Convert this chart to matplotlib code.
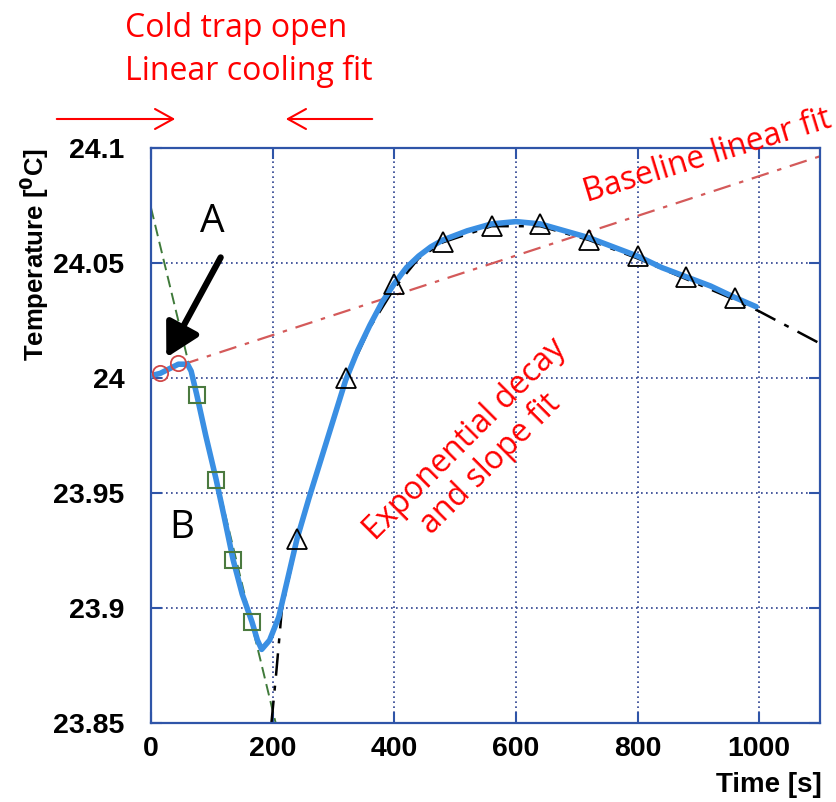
import matplotlib
matplotlib.use("Agg")
import matplotlib.pyplot as plt
import numpy as np

# mesure de température (courbe bleue)
t_mesure = [0, 15, 30, 45, 60, 66, 75, 90, 107, 120, 135, 150, 166, 175, 182,
            195, 210, 225, 240, 260, 280, 300, 320, 340, 360, 380, 400, 420,
            440, 460, 480, 520, 560, 600, 640, 680, 720, 760, 800, 840, 880,
            920, 960, 995]
T_mesure = [24.001, 24.002, 24.004, 24.006, 24.006, 24.003, 23.993, 23.975,
            23.956, 23.940, 23.921, 23.906, 23.894, 23.886, 23.882,
            23.886, 23.896, 23.913, 23.930, 23.948, 23.965, 23.982, 23.999,
            24.012, 24.023, 24.033, 24.041, 24.048, 24.053, 24.057, 24.060,
            24.064, 24.067, 24.068, 24.067, 24.064, 24.061, 24.057, 24.053,
            24.048, 24.044, 24.040, 24.035, 24.031]

# points A (cercles), B (carrés), triangles
t_A = [15, 44]
T_A = [24.002, 24.0065]
t_B = [75, 107, 135, 166]
T_B = [23.9926, 23.9556, 23.921, 23.894]
t_tri = [240, 320, 400, 480, 560, 640, 720, 800, 880, 960]
T_tri = [23.930, 24.000, 24.041, 24.059, 24.066, 24.067, 24.060, 24.053, 24.044, 24.035]

# ajustements
t_froid = [0, 205]
T_froid = [24.074, 23.850]
t_base = [50, 1100]
T_base = [24.0057, 24.0964]
t_expo = [198, 206, 215, 240, 280, 320, 360, 400, 440, 480, 560, 640, 720,
          800, 880, 960, 1000, 1050, 1100]
T_expo = [23.850, 23.872, 23.899, 23.929, 23.965, 23.999, 24.022, 24.039,
          24.052, 24.059, 24.066, 24.066, 24.060, 24.052, 24.043, 24.034,
          24.029, 24.022, 24.015]

x_ticks = [0, 200, 400, 600, 800, 1000]
y_ticks = [23.85, 23.9, 23.95, 24.0, 24.05, 24.1]
y_labels = ["23.85", "23.9", "23.95", "24", "24.05", "24.1"]

W, H = 836, 802
bleu_cadre = "#2f55a8"


def px(x, y):
    return (x / W, 1 - y / H)


fig = plt.figure(figsize=(W / 100, H / 100), dpi=100)
ax = fig.add_axes([151 / W, 1 - 723 / H, (820 - 151) / W, (723 - 148) / H])

ax.plot(t_froid, T_froid, color="#3f7a3a", lw=1.4, dashes=(6, 3), zorder=2)
ax.plot(t_base, T_base, color="#d45a5a", lw=1.6, dashes=(8, 4, 2, 4), zorder=2)
ax.plot(t_expo, T_expo, color="black", lw=1.8, dashes=(9, 4, 2, 4), zorder=2)
ax.plot(t_mesure, T_mesure, color="#3a8fe3", lw=4, solid_capstyle="round", zorder=3)

ax.plot(t_A, T_A, "o", ms=11, mfc="none", mec="#d04848", mew=1.3, zorder=4)
ax.plot(t_B, T_B, "s", ms=11, mfc="none", mec="#4b7a3f", mew=1.5, zorder=4)
ax.plot(t_tri, T_tri, "^", ms=14, mfc="none", mec="black", mew=1.3, zorder=4)

ax.set_xlim(0, 1100)
ax.set_ylim(23.85, 24.1)
ax.set_xticks(x_ticks)
ax.set_yticks(y_ticks)
ax.set_yticklabels(y_labels)
ax.grid(True, color="#2b3f8f", lw=1.2, linestyle=(0, (1, 2)))
for s in ax.spines.values():
    s.set_color(bleu_cadre)
    s.set_linewidth(1.6)
ax.tick_params(direction="in", length=8, width=1.5, color=bleu_cadre,
               top=True, right=True, labelsize=20.5)
ax.tick_params(axis="y", pad=19)
ax.tick_params(axis="x", pad=9)
for lab in ax.get_xticklabels() + ax.get_yticklabels():
    lab.set_fontfamily("Liberation Sans")
    lab.set_fontweight("bold")

fig.text(*px(34, 254), r"Temperature [$^{\mathbf{0}}$C]", rotation=90, ha="center",
         va="center", fontsize=18.5, fontweight="bold", family="Liberation Sans")
fig.text(*px(822, 785), "Time [s]", ha="right", va="center", fontsize=20,
         fontweight="bold", family="Liberation Sans")

# textes rouges
rouge = "#ff0000"
fig.text(*px(125, 37), "Cold trap open", ha="left", va="baseline",
         color=rouge, fontsize=23, family="Open Sans")
fig.text(*px(125, 80), "Linear cooling fit", ha="left", va="baseline",
         color=rouge, fontsize=23, family="Open Sans")
fig.text(*px(587, 202), "Baseline linear fit", ha="left", va="baseline", rotation=17,
         rotation_mode="anchor", color=rouge, fontsize=23, family="Open Sans")
fig.text(*px(478, 452), "Exponential decay\nand slope fit", ha="center", va="center",
         rotation=45, rotation_mode="anchor", multialignment="center",
         color=rouge, fontsize=23, family="Open Sans", linespacing=1.1)

# flèches rouges
fig.add_artist(matplotlib.patches.FancyArrowPatch(
    px(54, 119), px(178, 119), transform=fig.transFigure, arrowstyle="->,head_length=0.65,head_width=0.36",
    mutation_scale=20, color=rouge, lw=1.5))
fig.add_artist(matplotlib.patches.FancyArrowPatch(
    px(375, 119), px(283, 119), transform=fig.transFigure, arrowstyle="->,head_length=0.65,head_width=0.36",
    mutation_scale=20, color=rouge, lw=1.5))

# A et B
fig.text(*px(212, 222), "A", ha="center", va="center", fontsize=28, family="Open Sans")
fig.text(*px(182, 528), "B", ha="center", va="center", fontsize=28, family="Open Sans")
fig.add_artist(matplotlib.patches.FancyArrowPatch(
    px(222, 255), px(165, 360), transform=fig.transFigure,
    arrowstyle="-|>,head_length=1.0,head_width=0.55", mutation_scale=20,
    color="black", lw=4.5))

fig.savefig("out.png", dpi=100)
